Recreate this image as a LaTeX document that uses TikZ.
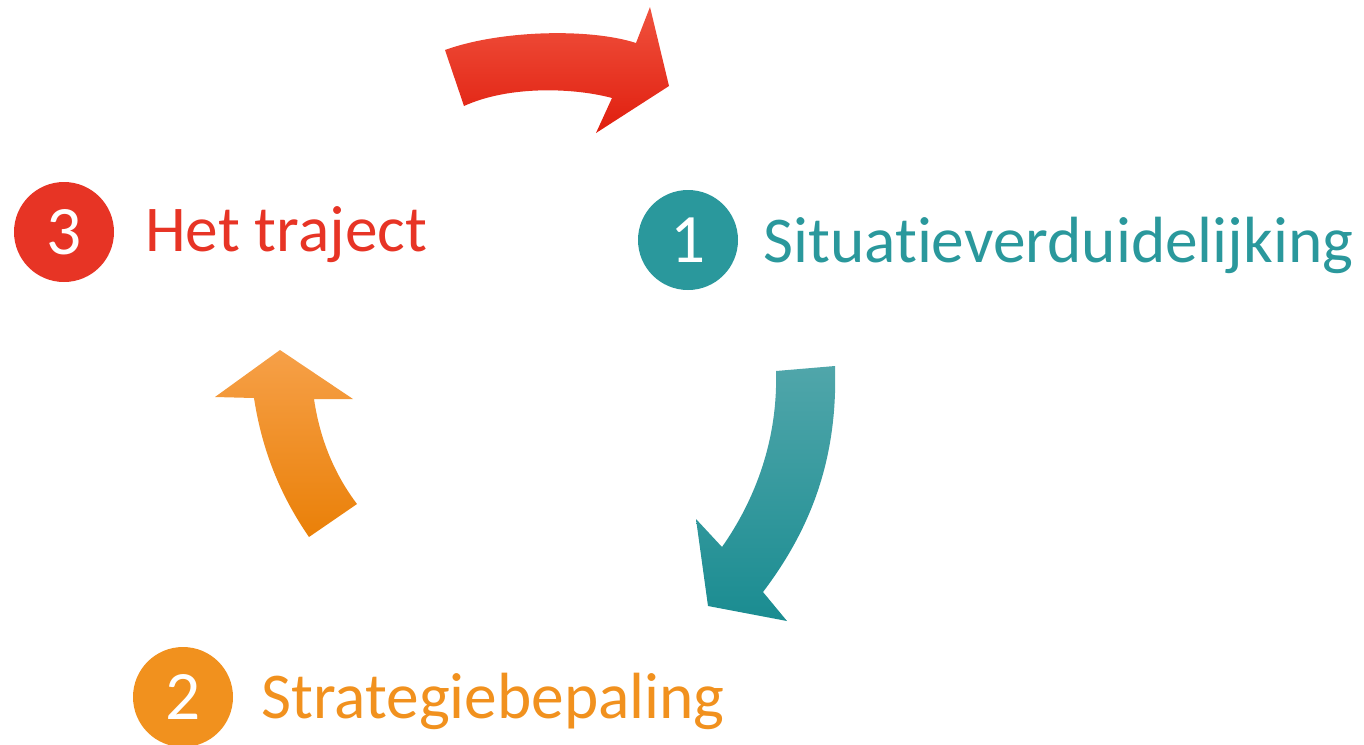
\documentclass[tikz,border=0pt]{standalone}
\usepackage{fontspec}
\setmainfont{Carlito}[Ligatures=NoCommon]
\definecolor{trajred}{RGB}{231,52,37}
\definecolor{situteal}{RGB}{42,152,156}
\definecolor{stratorange}{RGB}{241,145,30}
\tikzset{
  stepcircle/.style={circle, inner sep=0pt, minimum size=75pt, text=white, font=\fontsize{52}{52}\selectfont},
  steplabel/.style={anchor=base west, inner sep=0pt, font=\fontsize{49}{49}\selectfont}
}

\begin{document}
\begin{tikzpicture}[x=0.75pt,y=0.75pt,yscale=-1,xscale=1]
\useasboundingbox (0,0) rectangle (1364,744);
% arrows
\shade [top color={rgb,255:red,240;green,82;blue,62}, bottom color={rgb,255:red,224;green,30;blue,14}] (445,50) .. controls (500,30) and (590,28) .. (636,43) -- (650,7) -- (669,86) -- (596,133) -- (612,98) .. controls (575,88) and (510,85) .. (464,106) -- cycle ;
\shade [top color={rgb,255:red,80;green,166;blue,170}, bottom color={rgb,255:red,26;green,140;blue,145}] (776,371) -- (835,366) .. controls (838,460) and (810,530) .. (763,592) -- (787,621) -- (708,606) -- (696,519) -- (722,547) .. controls (755,500) and (778,440) .. (776,371) -- cycle ;
\shade [top color={rgb,255:red,246;green,160;blue,72}, bottom color={rgb,255:red,234;green,128;blue,8}] (309,537) .. controls (280,495) and (262,450) .. (254,398) -- (215,397) -- (280,350) -- (353,399) -- (314,399) .. controls (320,440) and (335,475) .. (357,504) -- cycle ;
% steps
\node [stepcircle, fill=situteal] (c1) at (688,240) {1};
\node [stepcircle, fill=stratorange] (c2) at (183,697) {2};
\node [stepcircle, fill=trajred] (c3) at (64,232) {3};
\node [steplabel, text=situteal] (l1) at (763,262) {Situatieverduidelijking};
\node [steplabel, text=stratorange] (l2) at (261,718) {Strategiebepaling};
\node [steplabel, text=trajred] (l3) at (145,251) {Het traject};
\end{tikzpicture}
\end{document}
